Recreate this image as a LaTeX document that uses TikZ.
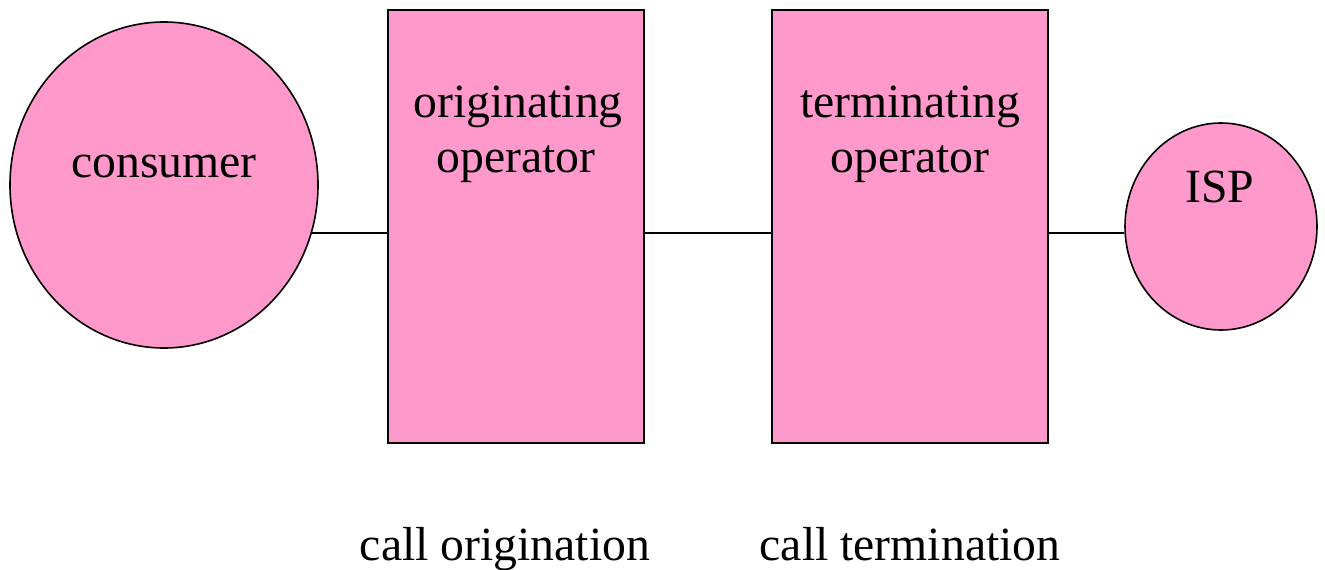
\documentclass[tikz,border=0pt]{standalone}
\usepackage{fontspec}
\setmainfont{Liberation Serif}
\usetikzlibrary{shapes.geometric}
\definecolor{boxpink}{HTML}{FF99CC}
\tikzset{
  shapebase/.style={draw=black, line width=1.6pt, fill=boxpink, inner sep=0pt},
  partybox/.style={shapebase, ellipse},
  opbox/.style={shapebase, rectangle},
  lbl/.style={font=\fontsize{47.7}{55}\selectfont, anchor=base, inner sep=0pt},
  link/.style={draw=black, line width=1.6pt}
}
\begin{document}
\begin{tikzpicture}[x=1pt, y=-1pt]
  \useasboundingbox (0,0) rectangle (1325,570);

  % parties and operators
  \node[partybox, minimum width=308pt, minimum height=326pt] (consumer) at (164,185) {};
  \node[opbox, minimum width=256pt, minimum height=433pt] (orig) at (516,226.5) {};
  \node[opbox, minimum width=276pt, minimum height=433pt] (term) at (910,226.5) {};
  \node[partybox, minimum width=192pt, minimum height=207pt] (isp) at (1221,226.5) {};

  % labels inside the shapes
  \node[lbl] (consumerlbl) at (164,177) {consumer};
  \node[lbl] (origlbl1) at (518,117) {originating};
  \node[lbl] (origlbl2) at (516,172) {operator};
  \node[lbl] (termlbl1) at (910,117) {terminating};
  \node[lbl] (termlbl2) at (910,172) {operator};
  \node[lbl] (isplbl) at (1220,202) {ISP};

  % captions below
  \node[lbl] (origcap) at (505,560) {call origination};
  \node[lbl] (termcap) at (910,560) {call termination};

  % connecting lines
  \draw[link] (consumer.-18) -- (consumer.-18 -| orig.west);
  \draw[link] ([yshift=-6.5pt]orig.east) -- ([yshift=-6.5pt]term.west);
  \draw[link] ([yshift=-6.5pt]term.east) -- ([yshift=-6.5pt]term.east -| isp.west);
\end{tikzpicture}
\end{document}
